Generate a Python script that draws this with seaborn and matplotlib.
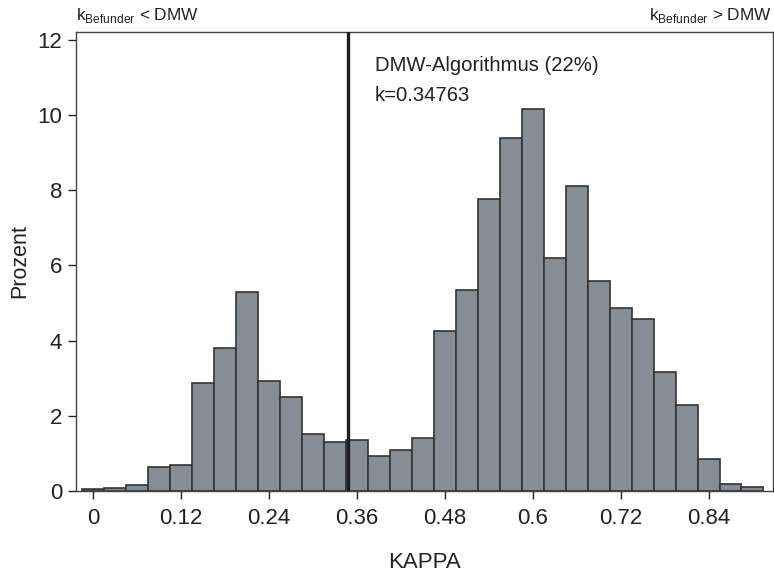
import numpy as np
import pandas as pd
import matplotlib
matplotlib.use("Agg")
import matplotlib.pyplot as plt
import seaborn as sns

# bin centres (kappa) and share of cases in percent
kappa_centers = [0.00, 0.03, 0.06, 0.09, 0.12, 0.15, 0.18, 0.21, 0.24, 0.27, 0.30,
                 0.33, 0.36, 0.39, 0.42, 0.45, 0.48, 0.51, 0.54, 0.57, 0.60, 0.63,
                 0.66, 0.69, 0.72, 0.75, 0.78, 0.81, 0.84, 0.87, 0.90]
prozent = [0.05, 0.09, 0.17, 0.65, 0.69, 2.88, 3.80, 5.28, 2.92, 2.51, 1.51,
           1.31, 1.35, 0.92, 1.08, 1.42, 4.24, 5.33, 7.76, 9.38, 10.15, 6.20,
           8.12, 5.58, 4.87, 4.57, 3.15, 2.28, 0.84, 0.18, 0.10]
bin_width = 0.03
k_dmw = 0.34763
x_ticks = [0, 0.12, 0.24, 0.36, 0.48, 0.6, 0.72, 0.84]
x_tick_labels = ["0", "0.12", "0.24", "0.36", "0.48", "0.6", "0.72", "0.84"]
y_ticks = [0, 2, 4, 6, 8, 10, 12]

sns.set_style("ticks")
plt.rcParams["font.family"] = ["Liberation Sans", "DejaVu Sans"]
plt.rcParams["mathtext.fontset"] = "custom"
plt.rcParams["mathtext.rm"] = "Liberation Sans"

fig = plt.figure(figsize=(7.74, 5.72), dpi=100)
ax = fig.add_axes([0.0982, 0.1416, 0.9005, 0.8024])

df = pd.DataFrame({"kappa": kappa_centers, "prozent": prozent})
edges = [c - bin_width / 2 for c in kappa_centers] + [kappa_centers[-1] + bin_width / 2]
sns.histplot(data=df, x="kappa", weights="prozent", bins=edges, ax=ax,
             color="#878d94", edgecolor="#333333", linewidth=1.2, alpha=1)

ax.axvline(k_dmw, color="#1e1e1e", linewidth=2.4, zorder=5)

ax.set_xlim(-0.0236, 0.928)
ax.set_ylim(0, 12.2)
ax.set_xticks(x_ticks)
ax.set_xticklabels(x_tick_labels)
ax.set_yticks(y_ticks)
ax.tick_params(axis="both", labelsize=16, colors="#222222", length=6, width=1)
ax.tick_params(axis="x", pad=6)
ax.tick_params(axis="y", pad=4)
for s in ax.spines.values():
    s.set_visible(True)
    s.set_color("#444444")
    s.set_linewidth(1)

ax.set_xlabel("KAPPA", fontsize=16, color="#222222", labelpad=17)
ax.set_ylabel("Prozent", fontsize=15.5, color="#222222", labelpad=5)

ax.text(0.3846, 11.3, "DMW-Algorithmus (22%)", fontsize=14.6, color="#222222", va="center")
ax.text(0.3846, 10.5, "k=0.34763", fontsize=14.6, color="#222222", va="center")

ax.text(0.0, 1.016, r"k$_{\mathregular{Befunder}}$ < DMW", transform=ax.transAxes,
        fontsize=12.4, color="#222222", ha="left", va="bottom")
ax.text(0.999, 1.016, r"k$_{\mathregular{Befunder}}$ > DMW", transform=ax.transAxes,
        fontsize=12.4, color="#222222", ha="right", va="bottom")

fig.savefig("out.png", dpi=100)
